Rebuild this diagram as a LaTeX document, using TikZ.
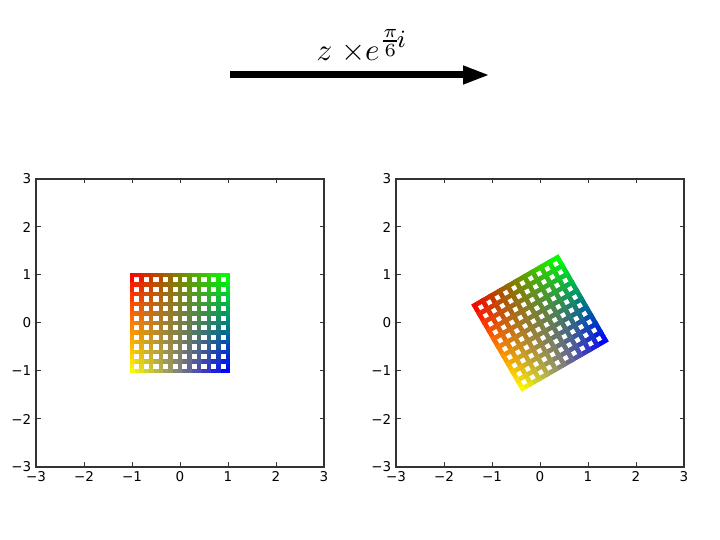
\documentclass[tikz,border=0pt]{standalone}
\usepackage{fontspec}
\setmainfont{DejaVu Sans}
\DeclareMathSizes{10}{10}{8}{6}
\usetikzlibrary{arrows.meta}
\tikzset{
  frame/.style={draw=black!80, line width=1.3pt},
  tick/.style={draw=black!80, line width=1pt},
  ylab/.style={anchor=east, inner sep=0pt, font=\fontsize{13.5}{13.5}\selectfont},
  xlab/.style={anchor=north, inner sep=0pt, font=\fontsize{13.5}{13.5}\selectfont},
  gridseg/.style={line width=4.5pt, line cap=rect},
  bigarrow/.style={line width=7pt, -{Triangle[length=27pt,width=17pt]}}
}
\newcommand{\mygrid}{%
  \foreach \i in {0,...,10}{%
    \foreach \j in {0,...,19}{%
      \pgfmathsetmacro{\ua}{\i/10}%
      \pgfmathsetmacro{\va}{(\j+0.5)/20}%
      \pgfmathsetmacro{\rr}{1-\ua}%
      \pgfmathsetmacro{\gg}{\ua*\va+(1-\ua)*(1-\va)}%
      \pgfmathsetmacro{\bb}{\ua*(1-\va)}%
      \definecolor{segc}{rgb}{\rr,\gg,\bb}%
      \draw[gridseg, segc] ({2*\ua-1},{2*\j/20-1}) -- ({2*\ua-1},{2*(\j+1)/20-1});
      \pgfmathsetmacro{\vb}{\i/10}%
      \pgfmathsetmacro{\ub}{(\j+0.5)/20}%
      \pgfmathsetmacro{\rr}{1-\ub}%
      \pgfmathsetmacro{\gg}{\ub*\vb+(1-\ub)*(1-\vb)}%
      \pgfmathsetmacro{\bb}{\ub*(1-\vb)}%
      \definecolor{segc}{rgb}{\rr,\gg,\bb}%
      \draw[gridseg, segc] ({2*\j/20-1},{2*\vb-1}) -- ({2*(\j+1)/20-1},{2*\vb-1});
    }%
  }%
}
\newcommand{\myaxes}{%
  \draw[frame] (-3,-3) rectangle (3,3);
  \foreach \t/\l in {-3/−3,-2/−2,-1/−1,0/0,1/1,2/2,3/3}{%
    \draw[tick] (\t,-3) -- ++(0,4.5pt);
    \draw[tick] (\t,3) -- ++(0,-4.5pt);
    \draw[tick] (-3,\t) -- ++(4.5pt,0);
    \draw[tick] (3,\t) -- ++(-4.5pt,0);
    \node[ylab] at ([xshift=-4.5pt]-3,\t) {\l};
    \node[xlab] at ([yshift=-4.5pt]\t,-3) {\l};
  }%
}
\begin{document}
\begin{tikzpicture}[x=1pt,y=1pt]
\useasboundingbox (0,0) rectangle (720,540);
% title and arrow
\coordinate (as) at (230,465);
\coordinate (ae) at (490,465);
\draw[bigarrow] (as) -- (ae);
\node[scale=3.1, inner sep=0pt] (title) at (362,494) {\fontsize{10}{12}\selectfont $z\;{\times}e^{\frac{\pi}{6}\!i}$};
% left plot
\begin{scope}[shift={(180,217)}, x=48pt, y=48pt]
  \mygrid
  \myaxes
\end{scope}
% right plot
\begin{scope}[shift={(540,217)}, x=48pt, y=48pt]
  \begin{scope}[rotate=30]
    \mygrid
  \end{scope}
  \myaxes
\end{scope}
\end{tikzpicture}
\end{document}
